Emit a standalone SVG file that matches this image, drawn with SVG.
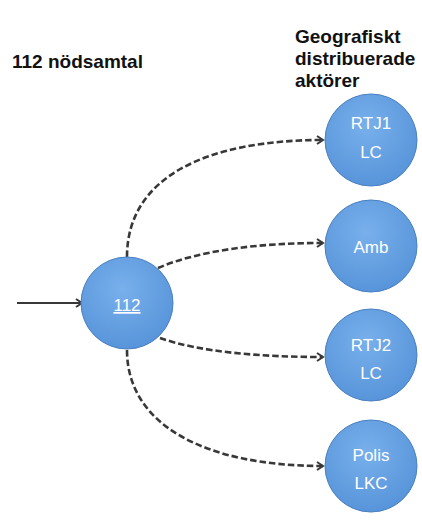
<svg xmlns="http://www.w3.org/2000/svg" width="422" height="524" viewBox="0 0 422 524">
<style>
.lbl{font-family:"Liberation Sans",Arial,sans-serif;font-weight:bold;font-size:19px;fill:#111}
.nt{font-family:"Liberation Sans",Arial,sans-serif;font-size:17px;fill:#fff;text-anchor:middle}
.node{fill:url(#g);stroke:#4a80c0;stroke-width:1}
.dash{fill:none;stroke:#383838;stroke-width:2.6;stroke-dasharray:6.5 3;marker-end:url(#ah)}
.solid{fill:none;stroke:#383838;stroke-width:2.2;marker-end:url(#ah)}
</style>
<defs>
<radialGradient id="g" cx="0.45" cy="0.35" r="0.7">
<stop offset="0" stop-color="#78b0ec"/>
<stop offset="1" stop-color="#5592d8"/>
</radialGradient>
<marker id="ah" markerWidth="10" markerHeight="10" refX="8" refY="5" orient="auto" markerUnits="userSpaceOnUse">
<path d="M2,1 L8,5 L2,9" fill="none" stroke="#383838" stroke-width="2"/>
</marker>
</defs>
<rect width="422" height="524" fill="#fff"/>
<text class="lbl" x="12" y="68">112 nödsamtal</text>
<g id="header">
<text class="lbl" x="295" y="43">Geografiskt</text>
<text class="lbl" x="295" y="65">distribuerade</text>
<text class="lbl" x="295" y="87">aktörer</text>
</g>
<g id="connectors">
<path class="solid" d="M17,303 L82,303"/>
<path class="dash" d="M127,257 C127,175 210,140 323,140"/>
<path class="dash" d="M158,268 C200,250 260,243 323,243"/>
<path class="dash" d="M160,338 C200,352 260,357 323,357"/>
<path class="dash" d="M127,350 C127,425 205,466 323,466"/>
</g>
<g id="n112"><circle class="node" cx="127" cy="303" r="46"/><text class="nt" x="127" y="311" text-decoration="underline">112</text></g>
<g id="rtj1"><circle class="node" cx="371" cy="140" r="46"/><text class="nt" x="371" y="129">RTJ1</text><text class="nt" x="371" y="158">LC</text></g>
<g id="amb"><circle class="node" cx="371" cy="246" r="46"/><text class="nt" x="371" y="253">Amb</text></g>
<g id="rtj2"><circle class="node" cx="371" cy="355" r="46"/><text class="nt" x="371" y="351">RTJ2</text><text class="nt" x="371" y="379">LC</text></g>
<g id="polis"><circle class="node" cx="371" cy="466" r="46"/><text class="nt" x="371" y="461">Polis</text><text class="nt" x="371" y="489">LKC</text></g>
</svg>
